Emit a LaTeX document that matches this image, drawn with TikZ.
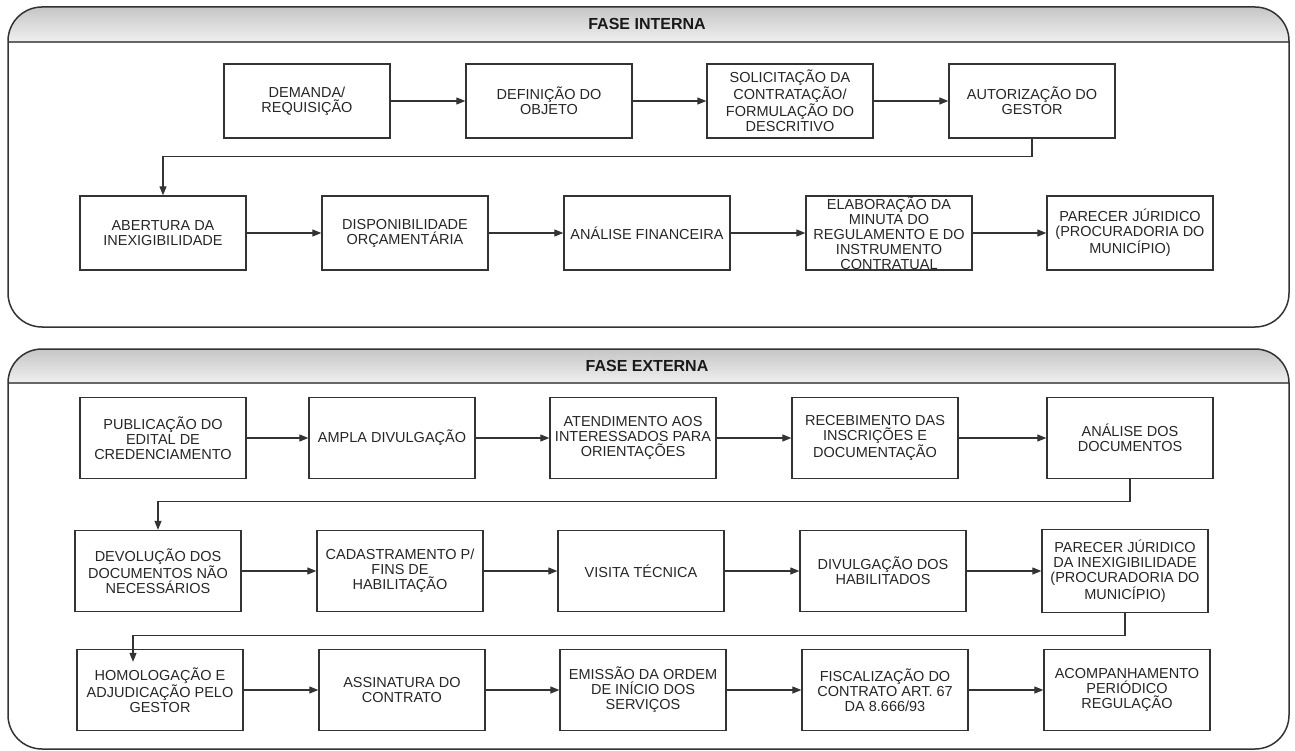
\documentclass[tikz,border=0pt]{standalone}
\usepackage{fontspec}
\setmainfont{Liberation Sans}
\usetikzlibrary{arrows.meta}
\definecolor{linha}{HTML}{333333}

\begin{document}
\begin{tikzpicture}[x=1pt,y=-1pt,
		etapa/.style={draw=linha, line width=1.3pt, minimum width=166pt, minimum height=74pt,
			inner sep=0pt, align=center, text=black!85, font=\fontsize{14.5}{15}\selectfont},
		etapaext/.style={etapa, minimum height=81pt},
		seta/.style={draw=linha, line width=1.1pt, -{Triangle[length=9pt,width=7pt]}},
		fase/.style={text=black!90, font=\bfseries\fontsize{16}{18}\selectfont}]
	\useasboundingbox (0,0) rectangle (1295,751);

		\begin{scope}
			\clip[rounded corners=34pt] (8,7) rectangle (1289,327);
			\shade[top color=gray!45, bottom color=gray!12] (8,7) rectangle (1289,42);
		\end{scope}
		\draw[black!60, line width=2pt] (8,42) -- (1289,42);
		\draw[linha, line width=1.5pt, rounded corners=34pt] (8,7) rectangle (1289,327);
		\node[fase] (FaseInterna) at (647,24) {FASE INTERNA};

		\node[etapa] (Demanda) at (307,101) {DEMANDA/\\REQUISIÇÃO};
		\node[etapa] (DefObjeto) at (549,101) {DEFINIÇÃO DO\\OBJETO};
		\node[etapa] (Solicitacao) at (790,101) {SOLICITAÇÃO DA\\CONTRATAÇÃO/\\FORMULAÇÃO DO\\DESCRITIVO};
		\node[etapa] (Autorizacao) at (1032,101) {AUTORIZAÇÃO DO\\GESTOR};
		\node[etapa] (Abertura) at (163,233) {ABERTURA DA\\INEXIGIBILIDADE};
		\node[etapa] (Disponibilidade) at (405,233) {DISPONIBILIDADE\\ORÇAMENTÁRIA};
		\node[etapa] (AnaliseFin) at (647,233) {ANÁLISE FINANCEIRA};
		\node[etapa] (Elaboracao) at (889,233) {ELABORAÇÃO DA\\MINUTA DO\\REGULAMENTO E DO\\INSTRUMENTO\\CONTRATUAL};
		\node[etapa] (ParecerInt) at (1130,233) {PARECER JÚRIDICO\\(PROCURADORIA DO\\MUNICÍPIO)};

		\draw[seta] (Demanda) -- (DefObjeto);
		\draw[seta] (DefObjeto) -- (Solicitacao);
		\draw[seta] (Solicitacao) -- (Autorizacao);
		\draw[seta] (Autorizacao.south) -- ++(0,18) -| (Abertura.north);
		\draw[seta] (Abertura) -- (Disponibilidade);
		\draw[seta] (Disponibilidade) -- (AnaliseFin);
		\draw[seta] (AnaliseFin) -- (Elaboracao);
		\draw[seta] (Elaboracao) -- (ParecerInt);

		\begin{scope}
			\clip[rounded corners=34pt] (8,349) rectangle (1289,749);
			\shade[top color=gray!45, bottom color=gray!12] (8,349) rectangle (1289,383);
		\end{scope}
		\draw[black!60, line width=2pt] (8,383) -- (1289,383);
		\draw[linha, line width=1.5pt, rounded corners=34pt] (8,349) rectangle (1289,749);
		\node[fase] (FaseExterna) at (647,366) {FASE EXTERNA};

		\node[etapaext] (Publicacao) at (163,438) {PUBLICAÇÃO DO\\EDITAL DE\\CREDENCIAMENTO};
		\node[etapaext] (Divulgacao) at (392,438) {AMPLA DIVULGAÇÃO};
		\node[etapaext] (Atendimento) at (633,438) {ATENDIMENTO AOS\\INTERESSADOS PARA\\ORIENTAÇÕES};
		\node[etapaext] (Recebimento) at (875,438) {RECEBIMENTO DAS\\INSCRIÇÕES E\\DOCUMENTAÇÃO};
		\node[etapaext] (AnaliseDoc) at (1130,438) {ANÁLISE DOS\\DOCUMENTOS};
		\node[etapaext] (Devolucao) at (158,571) {DEVOLUÇÃO DOS\\DOCUMENTOS NÃO\\NECESSÁRIOS};
		\node[etapaext] (Cadastramento) at (400,571) {CADASTRAMENTO P/\\FINS DE\\HABILITAÇÃO};
		\node[etapaext] (Visita) at (641,571) {VISITA TÉCNICA};
		\node[etapaext] (DivHabilitados) at (883,571) {DIVULGAÇÃO DOS\\HABILITADOS};
		\node[etapaext, minimum height=83pt] (ParecerExt) at (1125,571) {PARECER JÚRIDICO\\DA INEXIGIBILIDADE\\(PROCURADORIA DO\\MUNICÍPIO)};
		\node[etapaext] (Homologacao) at (160,690) {HOMOLOGAÇÃO E\\ADJUDICAÇÃO PELO\\GESTOR};
		\node[etapaext] (Assinatura) at (402,690) {ASSINATURA DO\\CONTRATO};
		\node[etapaext] (Emissao) at (643,690) {EMISSÃO DA ORDEM\\DE INÍCIO DOS\\SERVIÇOS};
		\node[etapaext] (Fiscalizacao) at (885,690) {FISCALIZAÇÃO DO\\CONTRATO ART. 67\\DA 8.666/93};
		\node[etapaext] (Acompanhamento) at (1127,690) {ACOMPANHAMENTO\\PERIÓDICO\\REGULAÇÃO};

		\draw[seta] (Publicacao) -- (Divulgacao);
		\draw[seta] (Divulgacao) -- (Atendimento);
		\draw[seta] (Atendimento) -- (Recebimento);
		\draw[seta] (Recebimento) -- (AnaliseDoc);
		\draw[seta] (AnaliseDoc.south) -- ++(0,22) -| (Devolucao.north);
		\draw[seta] (Devolucao) -- (Cadastramento);
		\draw[seta] (Cadastramento) -- (Visita);
		\draw[seta] (Visita) -- (DivHabilitados);
		\draw[seta] (DivHabilitados) -- (ParecerExt);
		\draw[seta] (ParecerExt.south) -- ++(0,22) -| ([xshift=-27pt,yshift=-13pt]Homologacao.north);
		\draw[seta] (Homologacao) -- (Assinatura);
		\draw[seta] (Assinatura) -- (Emissao);
		\draw[seta] (Emissao) -- (Fiscalizacao);
		\draw[seta] (Fiscalizacao) -- (Acompanhamento);
\end{tikzpicture}
\end{document}
